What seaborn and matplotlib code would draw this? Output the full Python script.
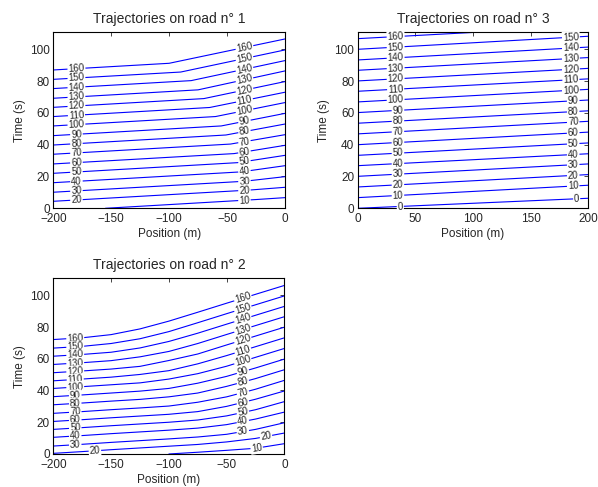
import numpy as np
import pandas as pd
import seaborn as sns
import matplotlib
matplotlib.use('Agg')
import matplotlib.pyplot as plt

# vehicle numbers shown on the trajectories
VEH = [160, 150, 140, 130, 120, 110, 100, 90, 80, 70, 60, 50, 40, 30, 20, 10]

# road 1: free flow then a bend into the slow part before the junction
road1_x = [[-200, -100, 0], [-200, -90, 0], [-200, -81, 0], [-200, -75, 0],
           [-200, -70, 0], [-200, -65, 0], [-200, -60, 0], [-200, -55, 0],
           [-200, -51, 0], [-200, -47, 0], [-200, -44, 0], [-200, -41, 0],
           [-200, -38, 0], [-200, -35, 0], [-200, -30, 0], [-155, -25, 0]]
road1_t = [[87.0, 91.2, 106.5], [81.1, 85.7, 99.6], [75.3, 80.3, 92.9],
           [69.2, 74.5, 86.4], [63.5, 69.0, 79.7], [57.7, 63.4, 73.0],
           [51.8, 57.7, 66.5], [45.7, 51.8, 59.7], [39.8, 46.1, 53.0],
           [34.0, 40.4, 46.3], [27.9, 34.4, 39.6], [22.0, 28.7, 33.3],
           [16.1, 22.9, 26.8], [10.1, 17.0, 19.9], [4.4, 11.5, 13.2],
           [0.0, 5.5, 6.7]]

# road 2: smoother bend, read every 25 m
road2_grid = [-200, -175, -150, -125, -100, -75, -50, -25, 0]
road2_t = [[72.1, 73.2, 75.2, 78.8, 83.7, 89.3, 95.0, 100.6, 106.2],
           [66.7, 67.8, 69.6, 72.6, 77.1, 82.7, 88.4, 94.0, 99.6],
           [61.6, 62.7, 64.1, 66.8, 70.9, 76.1, 81.8, 87.4, 93.0],
           [56.4, 57.5, 58.8, 61.2, 64.6, 69.6, 75.3, 80.9, 86.5],
           [51.2, 52.3, 53.5, 55.2, 58.9, 63.0, 68.7, 74.3, 79.9],
           [46.1, 47.2, 48.4, 50.1, 52.5, 56.8, 62.0, 67.6, 73.2],
           [41.3, 42.4, 43.6, 44.8, 47.2, 50.6, 55.3, 60.9, 66.5],
           [36.1, 37.2, 38.4, 39.6, 41.3, 44.6, 48.9, 54.2, 59.8],
           [31.0, 32.1, 33.3, 34.4, 36.0, 38.4, 42.6, 47.5, 53.1],
           [25.6, 26.7, 27.9, 29.0, 30.2, 32.6, 36.0, 40.8, 46.4],
           [20.5, 21.6, 22.8, 23.9, 25.0, 26.7, 30.0, 34.5, 39.7],
           [15.5, 16.6, 17.8, 18.9, 20.0, 21.4, 24.0, 27.9, 33.0],
           [10.5, 11.6, 12.8, 13.9, 15.0, 16.3, 18.5, 22.0, 26.4],
           [5.0, 6.1, 7.3, 8.4, 9.5, 10.7, 12.4, 15.5, 19.7],
           [0.4, 1.5, 2.7, 3.8, 4.9, 6.0, 7.6, 9.8, 13.2]]
road2_veh10_x = [-100, -75, -50, -25, 0]
road2_veh10_t = [0.0, 1.1, 2.3, 3.6, 6.5]

# road 3: straight lines after the junction
VEH3 = [160, 150, 140, 130, 120, 110, 100, 90, 80, 70, 60, 50, 40, 30, 20, 10, 0]
road3_t_start = [106.7, 100.0, 93.3, 86.8, 80.1, 73.6, 66.9, 60.2, 53.5, 46.8,
                 40.0, 33.3, 26.8, 20.1, 13.4, 6.7, 0.0]
road3_t_end = [114.5, 108.2, 101.4, 94.8, 88.0, 81.4, 74.8, 68.1, 61.3, 54.7,
               47.9, 41.1, 34.3, 27.9, 21.2, 14.5, 6.3]


def to_frame(veh, xs, ts):
    rows = []
    for v, x, t in zip(veh, xs, ts):
        for xi, ti in zip(x, t):
            rows.append({'veh': v, 'x': xi, 't': ti})
    return pd.DataFrame(rows)


df1 = to_frame(VEH, road1_x, road1_t)
df2 = to_frame(VEH, [road2_grid] * 15 + [road2_veh10_x], road2_t + [road2_veh10_t])
df3 = to_frame(VEH3, [[0, 200]] * len(VEH3),
               [[a, b] for a, b in zip(road3_t_start, road3_t_end)])

# where the inline labels sit along x
labels1 = [(v, -180) for v in VEH[:-1]] + [(v, -35) for v in VEH]
labels2 = ([(v, -181) for v in VEH[:-2]] + [(20, -164)]
           + [(v, -36) for v in VEH[:-2]] + [(20, -16), (10, -24)])
labels3 = ([(v, 33 if v >= 100 else (35 if v > 0 else 37)) for v in VEH3]
           + [(v, 185 if v >= 100 else (187 if v > 0 else 190)) for v in VEH3[1:]])

YMAX = 110.7

sns.set_style('white')
plt.rcParams['font.family'] = ['Liberation Sans', 'DejaVu Sans']
plt.rcParams['axes.unicode_minus'] = True

fig = plt.figure(figsize=(5.98, 4.87), dpi=100)
ax1 = fig.add_axes([0.0891, 0.5723, 0.3875, 0.3614])
ax3 = fig.add_axes([0.598, 0.5723, 0.3856, 0.3614])
ax2 = fig.add_axes([0.0891, 0.0678, 0.3866, 0.3608])


def draw(ax, df, labels, xlim, xticks, title):
    sns.lineplot(data=df, x='x', y='t', units='veh', estimator=None, sort=False,
                 color='#0000ff', lw=0.8, ax=ax, legend=False)
    for v, lx in labels:
        g = df[df.veh == v]
        xs, ts = g.x.values, g.t.values
        if lx < xs.min():
            continue
        ly = np.interp(lx, xs, ts)
        if ly > YMAX - 2:
            continue
        i = min(np.searchsorted(xs, lx), len(xs) - 1)
        i = max(i, 1)
        ang = np.degrees(np.arctan2(ts[i] - ts[i - 1], xs[i] - xs[i - 1]))
        ax.text(lx, ly, str(v), fontsize=7, ha='center', va='center',
                rotation=ang, transform_rotates_text=True, rotation_mode='anchor',
                bbox=dict(facecolor='white', edgecolor='none', pad=0.6))
    ax.set_xlim(*xlim)
    ax.set_ylim(0, YMAX)
    ax.set_xticks(xticks)
    ax.set_yticks([0, 20, 40, 60, 80, 100])
    ax.set_xlabel('Position (m)', fontsize=8.5, labelpad=2)
    ax.set_ylabel('Time (s)', fontsize=8.5, labelpad=3)
    ax.set_title(title, fontsize=10, pad=7)
    ax.tick_params(direction='in', length=3, width=0.6, top=True, right=True,
                   labelsize=8.5)
    ax.tick_params(axis='x', pad=3.5)
    ax.tick_params(axis='y', pad=2.4)
    for s in ax.spines.values():
        s.set_linewidth(0.8)
        s.set_color('black')


draw(ax1, df1, labels1, (-200, 0), [-200, -150, -100, -50, 0], 'Trajectories on road n° 1')
draw(ax2, df2, labels2, (-200, 0), [-200, -150, -100, -50, 0], 'Trajectories on road n° 2')
draw(ax3, df3, labels3, (0, 200), [0, 50, 100, 150, 200], 'Trajectories on road n° 3')

fig.savefig('out.png', dpi=100)
